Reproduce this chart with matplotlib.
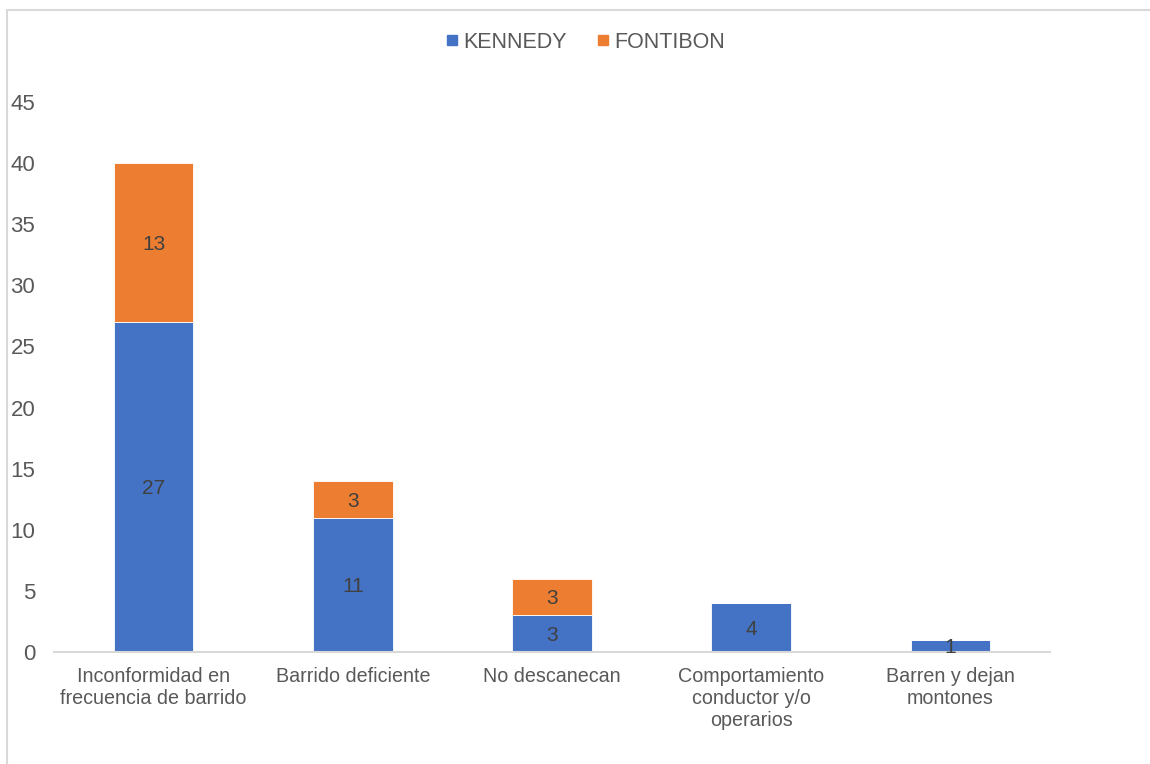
import matplotlib
matplotlib.use("Agg")
import matplotlib.pyplot as plt
from matplotlib.patches import Rectangle
from matplotlib.lines import Line2D

categories = ["Inconformidad en\nfrecuencia de barrido", "Barrido deficiente", "No descanecan",
              "Comportamiento\nconductor y/o\noperarios", "Barren y dejan\nmontones"]
kennedy = [27, 11, 3, 4, 1]
fontibon = [13, 3, 3, 0, 0]
series_names = ["KENNEDY", "FONTIBON"]
yticks = [0, 5, 10, 15, 20, 25, 30, 35, 40, 45]

blue = "#4472C4"
orange = "#ED7D31"
txt = "#595959"

plt.rcParams['font.family'] = ['Liberation Sans', 'DejaVu Sans']

fig = plt.figure(figsize=(11.5, 7.64), dpi=100)
ax = fig.add_axes([0.047, 0.1466, 0.866, 0.7199])

x = list(range(len(categories)))
w = 0.40
ax.bar(x, kennedy, width=w, color=blue, edgecolor="white", linewidth=0.6, label=series_names[0])
ax.bar(x, fontibon, width=w, bottom=kennedy, color=orange, edgecolor="white", linewidth=0.6, label=series_names[1])

for i in x:
    if kennedy[i] > 0:
        ax.text(i, kennedy[i] / 2, str(kennedy[i]), ha="center", va="center_baseline", fontsize=15, color="#404040")
    if fontibon[i] > 0:
        ax.text(i, kennedy[i] + fontibon[i] / 2, str(fontibon[i]), ha="center", va="center_baseline", fontsize=15, color="#404040")

ax.set_xlim(-0.5, len(categories) - 0.5)
ax.set_ylim(0, 45)
ax.set_yticks(yticks)
ax.set_xticks(x)
ax.set_xticklabels(categories, linespacing=1.2, fontsize=14.2)
ax.tick_params(axis="both", length=0, labelcolor=txt)
ax.tick_params(axis="y", pad=13.5, labelsize=16)
ax.tick_params(axis="x", pad=11)
for s in ["top", "right", "left"]:
    ax.spines[s].set_visible(False)
ax.spines["bottom"].set_color("#D9D9D9")
ax.spines["bottom"].set_linewidth(1.5)

handles = [Line2D([0], [0], marker="s", linestyle="none", markersize=7.5, color=blue),
           Line2D([0], [0], marker="s", linestyle="none", markersize=7.5, color=orange)]
fig.legend(handles, series_names, loc="center", bbox_to_anchor=(0.508, 0.945), ncol=2, frameon=False,
           fontsize=15.5, labelcolor=txt, handletextpad=0.1, columnspacing=1.3, handlelength=0.8)

fig.patches.append(Rectangle((0.006, -0.05), 1.1, 0.05 + 0.987, transform=fig.transFigure,
                             fill=False, edgecolor="#D9D9D9", linewidth=1.5))

fig.savefig("out.png", dpi=100)
